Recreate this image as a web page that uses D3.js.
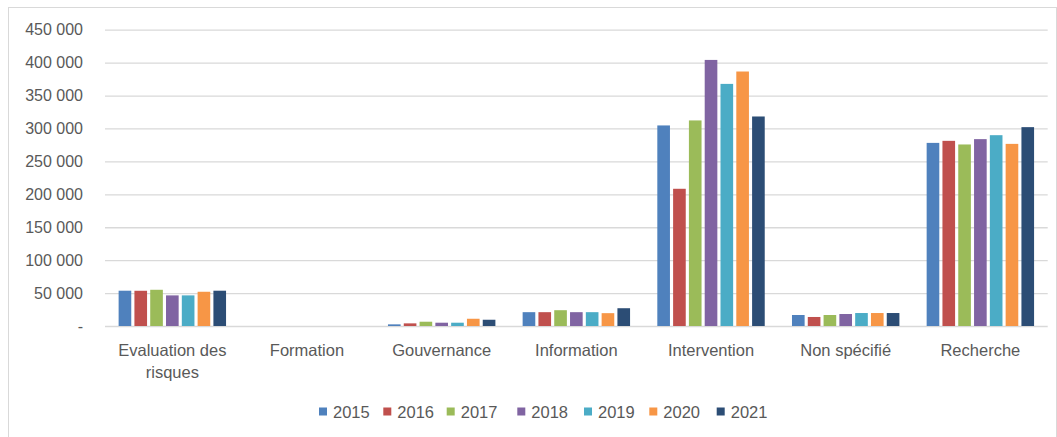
<!DOCTYPE html>
<html>
<head>
<meta charset="utf-8">
<script src="https://cdn.jsdelivr.net/npm/d3@7"></script>
<style>
  html, body { margin: 0; padding: 0; background: #fff; }
  svg { display: block; font-family: "Liberation Sans", Arial, sans-serif; }
</style>
</head>
<body>
<svg id="chart" width="1057" height="437"></svg>
<script>
// Categories (x axis) and series (one per year)
const categories = ["Evaluation des risques", "Formation", "Gouvernance", "Information", "Intervention", "Non spécifié", "Recherche"];
const years = ["2015", "2016", "2017", "2018", "2019", "2020", "2021"];
const colors = ["#4F81BD", "#C0504D", "#9BBB59", "#8064A2", "#4BACC6", "#F79646", "#2C4D75"];

// Values per year, in category order
const v2015 = [53600, 0, 2500, 21000, 304600, 16700, 278100];
const v2016 = [53500, 0, 4000, 21000, 208400, 13700, 281200];
const v2017 = [55000, 0, 6500, 24000, 312200, 16700, 275700];
const v2018 = [46500, 0, 5000, 21000, 404100, 18200, 283800];
const v2019 = [46500, 0, 5000, 21000, 367700, 19700, 289800];
const v2020 = [52000, 0, 11000, 19500, 386500, 19700, 276600];
const v2021 = [53600, 0, 9500, 27000, 318200, 19700, 302000];
const series = [v2015, v2016, v2017, v2018, v2019, v2020, v2021];

// Y axis ticks
const yTicks = [0, 50000, 100000, 150000, 200000, 250000, 300000, 350000, 400000, 450000];

const svg = d3.select("#chart");
const textColor = "#595959";
const gridColor = "#d9d9d9";

// Outer chart frame
svg.append("rect")
  .attr("x", 8.5).attr("y", 7.5)
  .attr("width", 1048).attr("height", 440)
  .attr("fill", "none").attr("stroke", gridColor).attr("stroke-width", 1);

const plot = { left: 105, right: 1047.7, top: 29.7, bottom: 326 };

const y = d3.scaleLinear().domain([0, 450000]).range([plot.bottom, plot.top]);
const x0 = d3.scaleBand().domain(categories).range([plot.left, plot.right]).padding(0);
const x1 = d3.scaleBand().domain(years).range([0, x0.bandwidth()])
  .paddingInner(0.2).paddingOuter(0.8625);

const fmt = d3.formatLocale({ decimal: ",", thousands: " ", grouping: [3], currency: ["", " €"] }).format(",.0f");

// Gridlines and y tick labels
const yAxis = d3.axisLeft(y)
  .tickValues(yTicks)
  .tickSize(-(plot.right - plot.left))
  .tickPadding(22)
  .tickFormat(d => d === 0 ? "-" : fmt(d));

const gy = svg.append("g")
  .attr("transform", `translate(${plot.left},0)`)
  .call(yAxis);
gy.select(".domain").remove();
gy.selectAll(".tick line").attr("stroke", gridColor).attr("stroke-width", 1.3);
gy.selectAll(".tick text")
  .attr("fill", textColor)
  .style("font-size", "16px")
  .style("font-family", "'Liberation Sans', Arial, sans-serif");

// Bars
const groups = svg.append("g").selectAll("g")
  .data(categories)
  .join("g")
  .attr("transform", d => `translate(${x0(d)},0)`);

groups.selectAll("rect")
  .data((c, ci) => years.map((yr, si) => ({ year: yr, value: series[si][ci], color: colors[si] })))
  .join("rect")
  .attr("x", d => x1(d.year))
  .attr("width", x1.bandwidth())
  .attr("y", d => y(d.value))
  .attr("height", d => plot.bottom - y(d.value))
  .attr("fill", d => d.color);

// Category labels (wrapped to two lines where needed)
const labelLines = {
  "Evaluation des risques": ["Evaluation des", "risques"]
};
const xLabels = svg.append("g");
categories.forEach(c => {
  const lines = labelLines[c] || [c];
  const t = xLabels.append("text")
    .attr("x", x0(c) + x0.bandwidth() / 2)
    .attr("y", 356)
    .attr("text-anchor", "middle")
    .attr("fill", textColor)
    .style("font-size", "16.5px");
  lines.forEach((ln, i) => {
    t.append("tspan")
      .attr("x", x0(c) + x0.bandwidth() / 2)
      .attr("dy", i === 0 ? 0 : 21.5)
      .text(ln);
  });
});

// Legend
const legendX = [319, 383.3, 446.7, 517.3, 584, 649.3, 716.7];
const legend = svg.append("g");
years.forEach((yr, i) => {
  const g = legend.append("g").attr("transform", `translate(${legendX[i]},0)`);
  g.append("rect")
    .attr("x", 0).attr("y", 407.5)
    .attr("width", 8).attr("height", 8)
    .attr("fill", colors[i]);
  g.append("text")
    .attr("x", 14).attr("y", 417.5)
    .attr("fill", textColor)
    .style("font-size", "16.5px")
    .text(yr);
});
</script>
</body>
</html>
